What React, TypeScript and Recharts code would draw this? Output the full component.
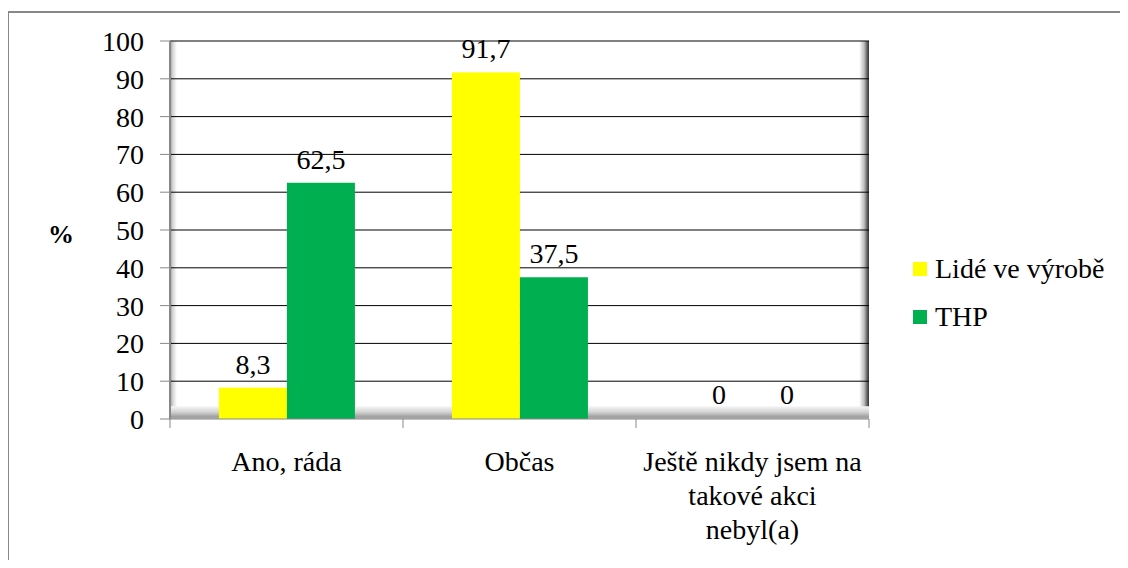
import React from 'react';
import {
  BarChart,
  Bar,
  XAxis,
  YAxis,
  CartesianGrid,
  Legend,
  LabelList,
  ReferenceArea,
} from 'recharts';

// Survey answers (percent of respondents); '\n' marks where a category label breaks
const categories = ['Ano, ráda', 'Občas', 'Ještě nikdy jsem na\ntakové akci\nnebyl(a)'];
const productionStaff = [8.3, 91.7, 0];
const technicalStaff = [62.5, 37.5, 0];
const seriesNames = ['Lidé ve výrobě', 'THP'];
const yTicks = [0, 10, 20, 30, 40, 50, 60, 70, 80, 90, 100];

const data = categories.map((name, i) => ({
  name,
  vyroba: productionStaff[i],
  thp: technicalStaff[i],
}));

const FONT = 'Liberation Serif';
const YELLOW = '#FFFF00';
const GREEN = '#00B050';
const AXIS_GRAY = '#888888';

const fmt = (v: any) => String(v).replace('.', ',');

// Bars of zero height are kept (for their labels) but not painted
const BarShape = (props: any) => {
  const { x, y, width, height, fill, value } = props;
  const v = Array.isArray(value) ? value[1] - value[0] : value;
  if (!v) return null;
  return <rect x={x} y={y} width={width} height={height} fill={fill} />;
};

const CategoryTick = (props: any) => {
  const { x, y, payload, index, visibleTicksCount } = props;
  const half = payload?.offset ?? 0;
  const lines = String(payload.value).split('\n');
  return (
    <g>
      <line x1={x - half} x2={x - half} y1={y} y2={y + 9} stroke={AXIS_GRAY} strokeWidth={1} />
      {index === visibleTicksCount - 1 && (
        <line x1={x + half} x2={x + half} y1={y} y2={y + 9} stroke={AXIS_GRAY} strokeWidth={1} />
      )}
      <text x={x} y={y + 52} textAnchor="middle" fill="#000" fontFamily={FONT} fontSize={28}>
        {lines.map((l, i) => (
          <tspan key={i} x={x} dy={i === 0 ? 0 : 34}>
            {l}
          </tspan>
        ))}
      </text>
    </g>
  );
};

const LegendContent = () => (
  <div style={{ fontFamily: FONT, fontSize: 28, color: '#000' }}>
    {seriesNames.map((n, i) => (
      <div key={n} style={{ display: 'flex', alignItems: 'center', height: 48 }}>
        <span
          style={{
            display: 'inline-block',
            width: 14,
            height: 14,
            background: i === 0 ? YELLOW : GREEN,
            marginRight: 8,
          }}
        />
        <span style={{ lineHeight: '48px' }}>{n}</span>
      </div>
    ))}
  </div>
);

export default function App() {
  return (
    <div
      style={{
        position: 'relative',
        width: 1128,
        height: 568,
        margin: -8,
        overflow: 'hidden',
        background: '#fff',
      }}
    >
      <div
        style={{
          position: 'absolute',
          left: 7,
          top: 11,
          width: 1160,
          height: 600,
          border: '2px solid #888',
          boxSizing: 'border-box',
        }}
      />
      <BarChart
        width={1128}
        height={568}
        data={data}
        margin={{ top: 41, right: 259, bottom: 29, left: 0 }}
        barCategoryGap="21%"
        barGap={0}
      >
        <defs>
          <linearGradient id="wallGrad" x1="0" y1="0" x2="1" y2="0">
            <stop offset="0" stopColor="#9a9a9a" />
            <stop offset="0.004" stopColor="#d6d6d6" />
            <stop offset="0.010" stopColor="#ffffff" />
            <stop offset="0.986" stopColor="#ffffff" />
            <stop offset="0.993" stopColor="#bdbdbd" />
            <stop offset="0.998" stopColor="#555555" />
            <stop offset="1" stopColor="#333333" />
          </linearGradient>
          <linearGradient id="floorGrad" x1="0" y1="0" x2="0" y2="1">
            <stop offset="0" stopColor="#f6f6f6" />
            <stop offset="0.45" stopColor="#d4d4d4" />
            <stop offset="0.85" stopColor="#9c9c9c" />
            <stop offset="1" stopColor="#c4c4c4" />
          </linearGradient>
        </defs>
        <CartesianGrid
          vertical={false}
          stroke="#000"
          strokeWidth={1}
          fill="url(#wallGrad)"
          fillOpacity={1}
          horizontalValues={yTicks.filter((t) => t > 0)}
        />
        <ReferenceArea y1={0} y2={3.4} fill="url(#floorGrad)" fillOpacity={1} stroke="none" />
        <XAxis
          dataKey="name"
          height={120}
          interval={0}
          tickLine={false}
          tickSize={0}
          tickMargin={0}
          axisLine={{ stroke: AXIS_GRAY, strokeWidth: 1 }}
          tick={<CategoryTick />}
        />
        <YAxis
          width={170}
          domain={[0, 100]}
          ticks={yTicks}
          interval={0}
          tickSize={10}
          tickMargin={16}
          axisLine={{ stroke: AXIS_GRAY, strokeWidth: 2 }}
          tickLine={{ stroke: AXIS_GRAY, strokeWidth: 1 }}
          tick={{ fill: '#000', fontFamily: FONT, fontSize: 28 }}
          label={{
            value: '%',
            position: 'insideLeft',
            offset: 48,
            dy: 4,
            fontFamily: FONT,
            fontSize: 26,
            fontWeight: 'bold',
            fill: '#000',
          }}
        />
        <Legend
          layout="vertical"
          align="center"
          verticalAlign="middle"
          wrapperStyle={{ left: 913, top: 245, width: 210 }}
          content={<LegendContent />}
        />
        <Bar
          dataKey="vyroba"
          name={seriesNames[0]}
          fill={YELLOW}
          minPointSize={1}
          shape={<BarShape />}
          isAnimationActive={false}
        >
          <LabelList
            dataKey="vyroba"
            position="top"
            offset={14}
            formatter={fmt}
            fill="#000"
            fontFamily={FONT}
            fontSize={28}
          />
        </Bar>
        <Bar
          dataKey="thp"
          name={seriesNames[1]}
          fill={GREEN}
          minPointSize={1}
          shape={<BarShape />}
          isAnimationActive={false}
        >
          <LabelList
            dataKey="thp"
            position="top"
            offset={14}
            formatter={fmt}
            fill="#000"
            fontFamily={FONT}
            fontSize={28}
          />
        </Bar>
      </BarChart>
    </div>
  );
}
